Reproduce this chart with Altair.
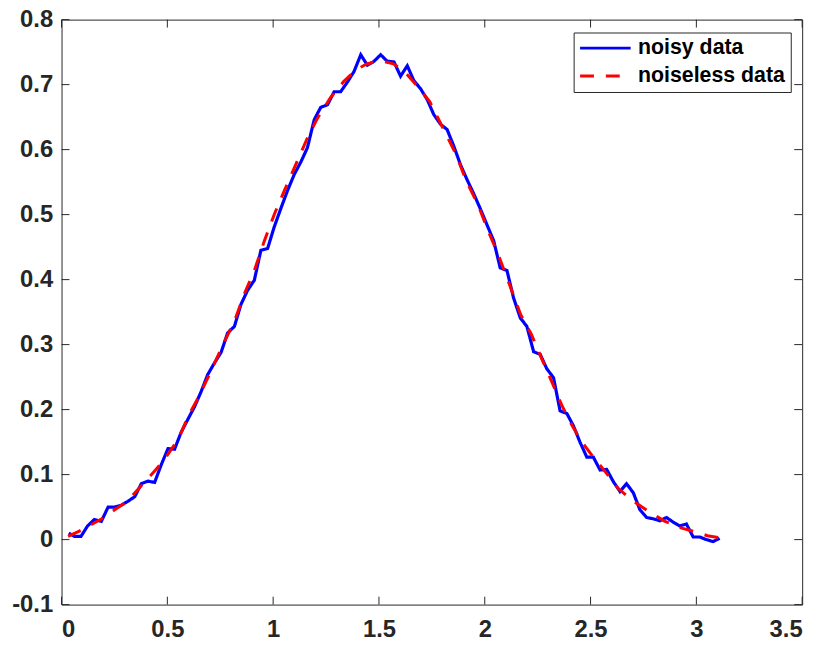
import altair as alt
import pandas as pd

# ---- data ----
noisy_x = [0.034, 0.061, 0.092, 0.123, 0.155, 0.188, 0.220, 0.251, 0.283, 0.314,
           0.346, 0.377, 0.408, 0.440, 0.471, 0.503, 0.534, 0.565, 0.597, 0.628,
           0.660, 0.691, 0.723, 0.754, 0.785, 0.817, 0.848, 0.880, 0.911, 0.942,
           0.974, 1.005, 1.037, 1.068, 1.100, 1.131, 1.162, 1.194, 1.225, 1.257,
           1.288, 1.319, 1.351, 1.382, 1.414, 1.445, 1.477, 1.508, 1.539, 1.571,
           1.602, 1.634, 1.665, 1.696, 1.728, 1.759, 1.791, 1.822, 1.853, 1.885,
           1.916, 1.948, 1.979, 2.011, 2.042, 2.073, 2.105, 2.136, 2.168, 2.199,
           2.231, 2.262, 2.293, 2.325, 2.356, 2.388, 2.419, 2.450, 2.482, 2.513,
           2.545, 2.576, 2.608, 2.639, 2.670, 2.702, 2.733, 2.765, 2.796, 2.827,
           2.859, 2.890, 2.922, 2.953, 2.985, 3.016, 3.047, 3.079, 3.110]
noisy_y = [0.010, 0.005, 0.005, 0.021, 0.031, 0.028, 0.050, 0.050, 0.053, 0.059,
           0.066, 0.086, 0.090, 0.088, 0.115, 0.140, 0.139, 0.165, 0.185, 0.204,
           0.228, 0.254, 0.272, 0.288, 0.318, 0.328, 0.362, 0.384, 0.399, 0.445,
           0.448, 0.481, 0.510, 0.537, 0.562, 0.581, 0.603, 0.646, 0.665, 0.669,
           0.689, 0.689, 0.704, 0.720, 0.746, 0.730, 0.736, 0.746, 0.736, 0.735,
           0.713, 0.729, 0.706, 0.694, 0.677, 0.654, 0.639, 0.631, 0.606, 0.577,
           0.554, 0.532, 0.509, 0.484, 0.460, 0.418, 0.414, 0.372, 0.341, 0.328,
           0.289, 0.285, 0.263, 0.249, 0.198, 0.194, 0.175, 0.150, 0.127, 0.127,
           0.107, 0.108, 0.089, 0.074, 0.086, 0.072, 0.046, 0.034, 0.032, 0.029,
           0.034, 0.027, 0.021, 0.024, 0.004, 0.004, 0.000, -0.003, 0.002]

clean_x = [0.031, 0.084, 0.190, 0.310, 0.366, 0.444, 0.483, 0.553, 0.600, 0.647,
           0.700, 0.756, 0.819, 0.865, 0.912, 0.959, 1.006, 1.053, 1.100, 1.162,
           1.209, 1.271, 1.334, 1.389, 1.443, 1.506, 1.568, 1.615, 1.678, 1.740,
           1.818, 1.865, 1.912, 1.967, 2.021, 2.068, 2.115, 2.170, 2.220, 2.271,
           2.318, 2.365, 2.412, 2.459, 2.506, 2.568, 2.630, 2.693, 2.771, 2.849,
           2.927, 3.005, 3.052, 3.110]
clean_y = [0.005, 0.013, 0.032, 0.059, 0.079, 0.107, 0.122, 0.155, 0.191, 0.219,
           0.255, 0.295, 0.338, 0.379, 0.415, 0.460, 0.501, 0.537, 0.572, 0.618,
           0.648, 0.680, 0.705, 0.722, 0.732, 0.737, 0.732, 0.722, 0.699, 0.674,
           0.623, 0.592, 0.552, 0.516, 0.471, 0.435, 0.394, 0.346, 0.316, 0.277,
           0.242, 0.206, 0.176, 0.150, 0.130, 0.105, 0.079, 0.061, 0.044, 0.0285,
           0.018, 0.011, 0.006, 0.003]

series_names = ["noisy data", "noiseless data"]
x_ticks = [0, 0.5, 1, 1.5, 2, 2.5, 3, 3.5]
y_ticks = [-0.1, 0, 0.1, 0.2, 0.3, 0.4, 0.5, 0.6, 0.7, 0.8]

noisy_df = pd.DataFrame({"x": noisy_x, "y": noisy_y, "series": series_names[0]})
clean_df = pd.DataFrame({"x": clean_x, "y": clean_y, "series": series_names[1]})
xt_df = pd.DataFrame({"x": x_ticks})
yt_df = pd.DataFrame({"y": y_ticks})

W, H = 747, 590
AX = "#262626"
FONT = "Liberation Sans"
TL = 8  # inward tick length

X_ENC = alt.X("x:Q", title=None,
              scale=alt.Scale(domain=[0, 3.5], nice=False, zero=False),
              axis=alt.Axis(values=x_ticks, labelExpr="'' + datum.value",
                            domain=False, ticks=False, tickSize=0, grid=False,
                            labelFont=FONT, labelFontSize=24, labelFontWeight="bold",
                            labelColor=AX, labelPadding=13))
Y_ENC = alt.Y("y:Q", title=None,
              scale=alt.Scale(domain=[-0.1, 0.8], nice=False, zero=False),
              axis=alt.Axis(values=y_ticks, labelExpr="'' + datum.value",
                            domain=False, ticks=False, tickSize=0, grid=False,
                            labelFont=FONT, labelFontSize=24, labelFontWeight="bold",
                            labelColor=AX, labelPadding=9))

LEG = alt.Legend(title=None, labelExpr="datum.label + '\u00a0'")
COLOR = alt.Color("series:N", legend=LEG,
                  scale=alt.Scale(domain=series_names, range=["#0000ff", "#ff0000"]))
DASH = alt.StrokeDash("series:N", legend=LEG,
                      scale=alt.Scale(domain=series_names, range=[[1, 0], [14, 12]]))

noisy = alt.Chart(noisy_df).mark_line(strokeWidth=3.2).encode(
    x=X_ENC, y=Y_ENC, color=COLOR, strokeDash=DASH, order="x:Q")
clean = alt.Chart(clean_df).mark_line(strokeWidth=3).encode(
    x=X_ENC, y=Y_ENC, color=COLOR, strokeDash=DASH, order="x:Q")

bottom_t = alt.Chart(xt_df).mark_rule(color=AX, strokeWidth=1).encode(
    x=X_ENC, y=alt.value(H), y2=alt.value(H - TL))
top_t = alt.Chart(xt_df).mark_rule(color=AX, strokeWidth=1).encode(
    x=X_ENC, y=alt.value(0), y2=alt.value(TL))
left_t = alt.Chart(yt_df).mark_rule(color=AX, strokeWidth=1).encode(
    y=Y_ENC, x=alt.value(0), x2=alt.value(TL))
right_t = alt.Chart(yt_df).mark_rule(color=AX, strokeWidth=1).encode(
    y=Y_ENC, x=alt.value(W), x2=alt.value(W - TL))

chart = alt.layer(noisy, clean, bottom_t, top_t, left_t, right_t).properties(
    width=W, height=H,
    padding={"left": 54, "top": 9, "right": 20, "bottom": 35},
    autosize=alt.AutoSizeParams(type="none"),
).configure(font=FONT).configure_view(
    stroke=AX, strokeWidth=1
).configure_legend(
    orient="none", legendX=516.5, legendY=13,
    padding=5, strokeColor=AX, fillColor="white", cornerRadius=0,
    labelFont=FONT, labelFontSize=21.5, labelFontWeight="bold", labelColor="black",
    symbolType="stroke", symbolSize=2601, symbolStrokeWidth=3,
    labelOffset=6, rowPadding=5, clipHeight=21.5, labelLimit=400,
)

chart.save("out.html", embed_options={"renderer": "svg", "actions": False})
